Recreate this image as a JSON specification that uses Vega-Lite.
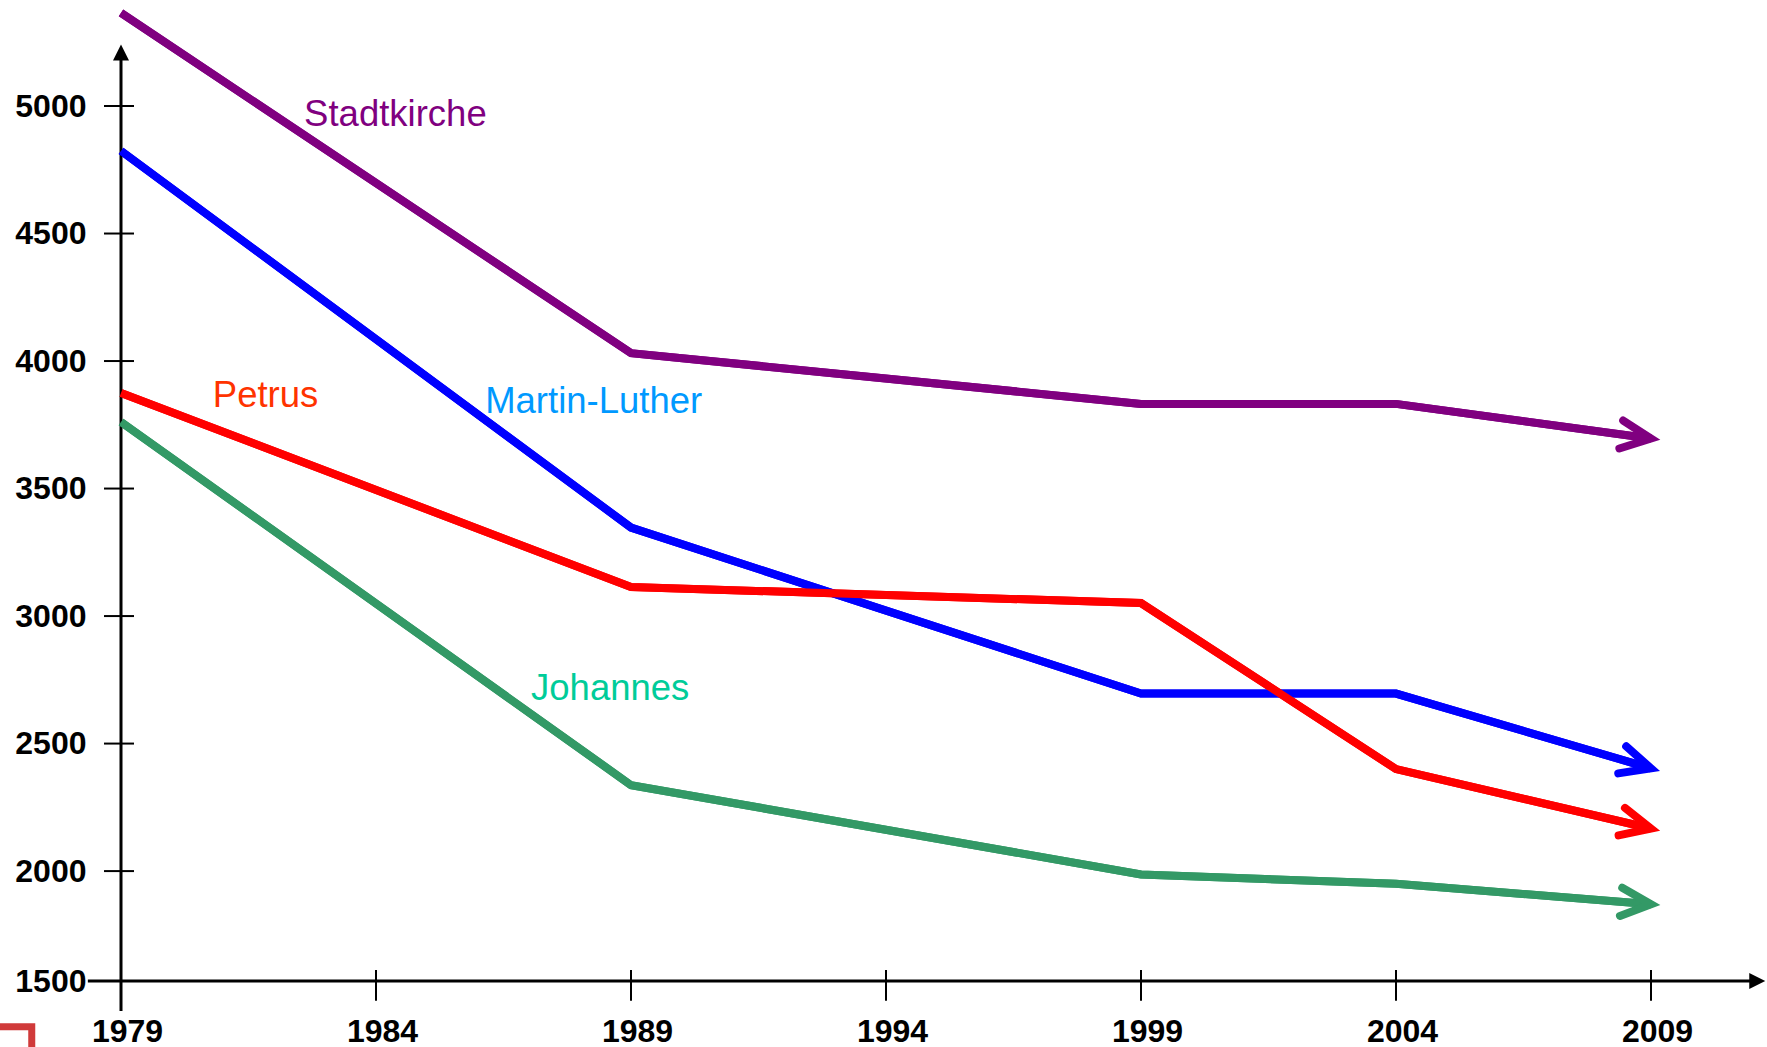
{
  "$schema": "https://vega.github.io/schema/vega-lite/v6.json",
  "width": 1632,
  "height": 977,
  "autosize": {"type": "none"},
  "padding": {"left": 121, "top": 4, "right": 14, "bottom": 66},
  "background": "white",
  "config": {"view": {"stroke": null}},
  "datasets": {
    "series": [
      {"church": "Stadtkirche", "year": 1979, "value": 5365},
      {"church": "Stadtkirche", "year": 1989, "value": 4031},
      {"church": "Stadtkirche", "year": 1999, "value": 3832},
      {"church": "Stadtkirche", "year": 2004, "value": 3832},
      {"church": "Stadtkirche", "year": 2009, "value": 3696},
      {"church": "Martin-Luther", "year": 1979, "value": 4824},
      {"church": "Martin-Luther", "year": 1989, "value": 3347},
      {"church": "Martin-Luther", "year": 1999, "value": 2696},
      {"church": "Martin-Luther", "year": 2004, "value": 2696},
      {"church": "Martin-Luther", "year": 2009, "value": 2403},
      {"church": "Petrus", "year": 1979, "value": 3875},
      {"church": "Petrus", "year": 1989, "value": 3114},
      {"church": "Petrus", "year": 1999, "value": 3051},
      {"church": "Petrus", "year": 2004, "value": 2400},
      {"church": "Petrus", "year": 2009, "value": 2167},
      {"church": "Johannes", "year": 1979, "value": 3761},
      {"church": "Johannes", "year": 1989, "value": 2337},
      {"church": "Johannes", "year": 1999, "value": 1987},
      {"church": "Johannes", "year": 2004, "value": 1950},
      {"church": "Johannes", "year": 2009, "value": 1870}
    ],
    "labels": [
      {"church": "Stadtkirche", "year": 1982.59, "value": 4920},
      {"church": "Petrus", "year": 1980.8, "value": 3819},
      {"church": "Martin-Luther", "year": 1986.14, "value": 3795},
      {"church": "Johannes", "year": 1987.04, "value": 2670}
    ],
    "xticks": [{"year": 1984}, {"year": 1989}, {"year": 1994}, {"year": 1999}, {"year": 2004}, {"year": 2009}],
    "yticks": [{"value": 2000}, {"value": 2500}, {"value": 3000}, {"value": 3500}, {"value": 4000}, {"value": 4500}, {"value": 5000}]
  },
  "resolve": {"scale": {"color": "independent"}},
  "layer": [
    {
      "data": {"name": "series"},
      "mark": {"type": "line", "strokeWidth": 8, "strokeJoin": "miter"},
      "encoding": {
        "x": {
          "field": "year", "type": "quantitative",
          "scale": {"domain": [1979, 2011], "nice": false, "zero": false},
          "axis": {
            "title": null, "domain": false, "ticks": false, "tickSize": 0, "grid": false,
            "values": [1979, 1984, 1989, 1994, 1999, 2004, 2009],
            "format": "d", "labelFlush": false, "labelOverlap": false, "labelOffset": 6,
            "labelFont": "Liberation Sans", "labelFontSize": 32, "labelFontWeight": "bold",
            "labelColor": "black", "labelPadding": 35
          }
        },
        "y": {
          "field": "value", "type": "quantitative",
          "scale": {"domain": [1569, 5400], "nice": false, "zero": false},
          "axis": {
            "title": null, "domain": false, "ticks": false, "tickSize": 0, "grid": false,
            "values": [1569, 2000, 2500, 3000, 3500, 4000, 4500, 5000],
            "format": "d", "labelExpr": "datum.value < 1600 ? '1500' : datum.label",
            "labelFlush": false, "labelOverlap": false,
            "labelFont": "Liberation Sans", "labelFontSize": 32, "labelFontWeight": "bold",
            "labelColor": "black", "labelPadding": 35
          }
        },
        "color": {
          "field": "church", "type": "nominal", "legend": null,
          "scale": {"domain": ["Stadtkirche", "Martin-Luther", "Petrus", "Johannes"], "range": ["#800080", "#0000FF", "#FF0000", "#339966"]}
        },
        "detail": {"field": "church"}
      }
    },
    {
      "data": {"values": [{}]},
      "mark": {"type": "rect", "fill": "white", "fillOpacity": 0, "stroke": "#d03a3a", "strokeWidth": 7},
      "encoding": {
        "x": {"datum": 1960, "type": "quantitative", "title": null},
        "x2": {"datum": 1977.25},
        "y": {"datum": 1390, "type": "quantitative", "title": null},
        "y2": {"datum": 1100}
      }
    },
    {
      "data": {"values": [{}]},
      "mark": {"type": "rule", "color": "black", "strokeWidth": 3},
      "encoding": {
        "x": {"datum": 1978.35, "type": "quantitative", "title": null},
        "x2": {"datum": 2011.0},
        "y": {"datum": 1569, "type": "quantitative", "title": null}
      }
    },
    {
      "data": {"values": [{}]},
      "mark": {"type": "rule", "color": "black", "strokeWidth": 3},
      "encoding": {
        "x": {"datum": 1979, "type": "quantitative", "title": null},
        "y": {"datum": 1451, "type": "quantitative", "title": null},
        "y2": {"datum": 5190}
      }
    },
    {
      "data": {"values": [{}]},
      "mark": {"type": "point", "shape": "M 0 0 L 1 2 L -1 2 Z", "filled": true, "color": "black", "size": 256, "opacity": 1},
      "encoding": {
        "x": {"datum": 1979, "type": "quantitative", "title": null},
        "y": {"datum": 5241, "type": "quantitative", "title": null}
      }
    },
    {
      "data": {"values": [{}]},
      "mark": {"type": "point", "shape": "M 0 0 L -2 -1 L -2 1 Z", "filled": true, "color": "black", "size": 256, "opacity": 1},
      "encoding": {
        "x": {"datum": 2011.24, "type": "quantitative", "title": null},
        "y": {"datum": 1569, "type": "quantitative", "title": null}
      }
    },
    {
      "data": {"name": "xticks"},
      "mark": {"type": "rule", "color": "black", "strokeWidth": 2},
      "encoding": {
        "x": {"field": "year", "type": "quantitative", "title": null},
        "y": {"datum": 1612, "type": "quantitative", "title": null},
        "y2": {"datum": 1492}
      }
    },
    {
      "data": {"name": "yticks"},
      "mark": {"type": "rule", "color": "black", "strokeWidth": 2},
      "encoding": {
        "y": {"field": "value", "type": "quantitative", "title": null},
        "x": {"datum": 1978.667, "type": "quantitative", "title": null},
        "x2": {"datum": 1979.255}
      }
    },
    {
      "data": {"name": "series"},
      "mark": {"type": "line", "strokeWidth": 8, "strokeJoin": "miter"},
      "encoding": {
        "x": {"field": "year", "type": "quantitative", "title": null},
        "y": {"field": "value", "type": "quantitative", "title": null},
        "color": {
          "field": "church", "type": "nominal", "legend": null,
          "scale": {"domain": ["Stadtkirche", "Martin-Luther", "Petrus", "Johannes"], "range": ["#800080", "#0000FF", "#FF0000", "#339966"]}
        },
        "detail": {"field": "church"}
      }
    },
    {
      "data": {"name": "series"},
      "transform": [{"filter": "datum.year == 2009"}],
      "mark": {"type": "point", "shape": "M -1 -0.47 L 0 0 L -1 0.47", "filled": false, "strokeWidth": 8, "strokeCap": "round", "strokeJoin": "miter", "size": 3600, "opacity": 1},
      "encoding": {
        "x": {"field": "year", "type": "quantitative", "title": null},
        "y": {"field": "value", "type": "quantitative", "title": null},
        "color": {
          "field": "church", "type": "nominal", "legend": null,
          "scale": {"domain": ["Stadtkirche", "Martin-Luther", "Petrus", "Johannes"], "range": ["#800080", "#0000FF", "#FF0000", "#339966"]}
        },
        "angle": {
          "condition": [
            {"test": "datum.church === 'Stadtkirche'", "value": 7.75},
            {"test": "datum.church === 'Martin-Luther'", "value": 16.3},
            {"test": "datum.church === 'Petrus'", "value": 13.1}
          ],
          "value": 4.6
        }
      }
    },
    {
      "data": {"name": "labels"},
      "mark": {"type": "text", "align": "left", "baseline": "alphabetic", "font": "Liberation Sans", "fontSize": 36.5},
      "encoding": {
        "x": {"field": "year", "type": "quantitative", "title": null},
        "y": {"field": "value", "type": "quantitative", "title": null},
        "text": {"field": "church"},
        "color": {
          "field": "church", "type": "nominal", "legend": null,
          "scale": {"domain": ["Stadtkirche", "Martin-Luther", "Petrus", "Johannes"], "range": ["#800080", "#0099FF", "#FF3300", "#00CC99"]}
        }
      }
    }
  ]
}
